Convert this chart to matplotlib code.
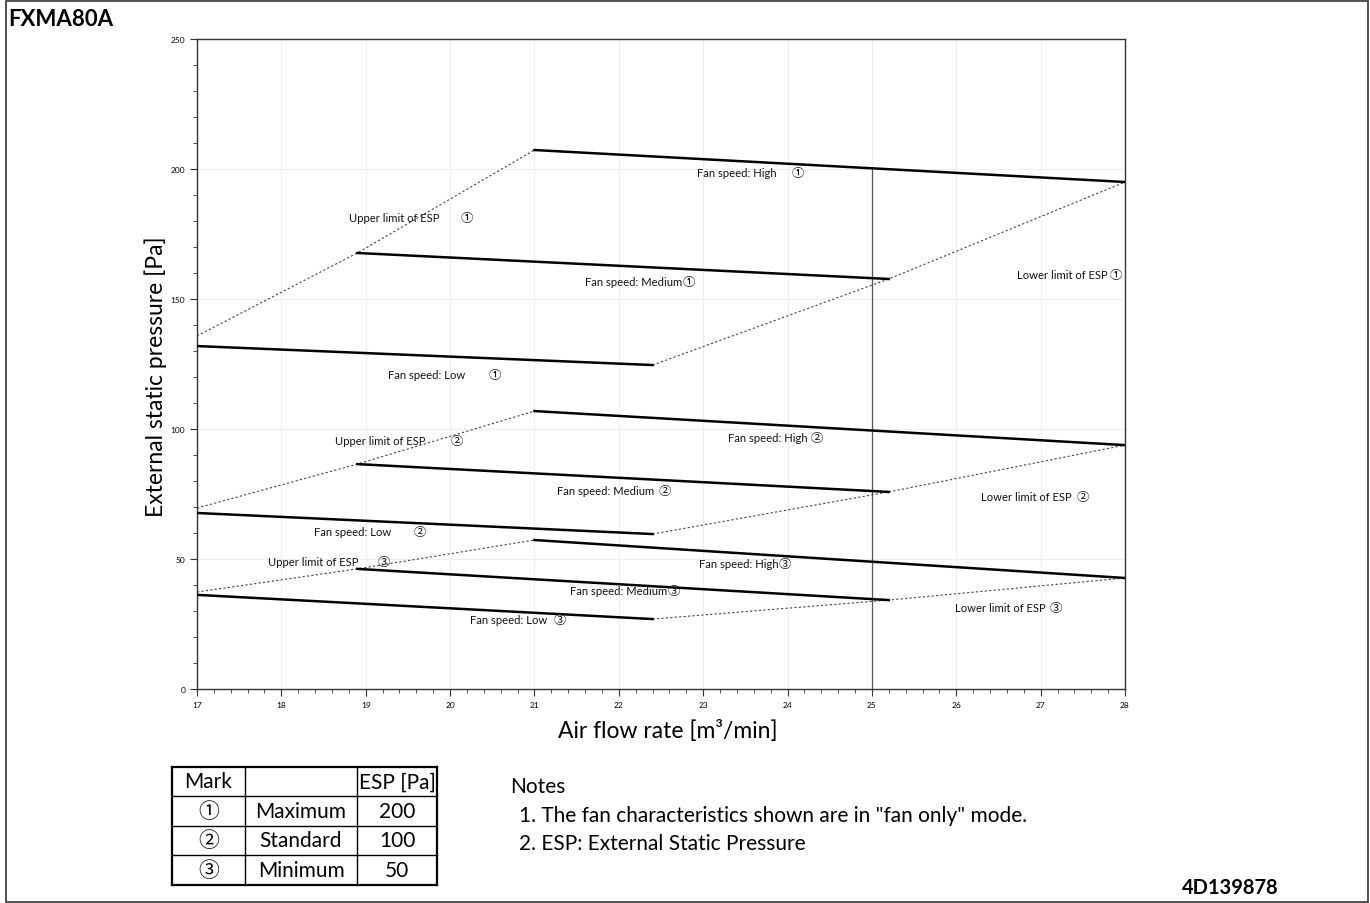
import matplotlib
matplotlib.use("Agg")
import matplotlib.pyplot as plt
from matplotlib.lines import Line2D
from matplotlib.patches import Rectangle
from matplotlib.ticker import MultipleLocator

plt.rcParams['font.family'] = ['Lato', 'DejaVu Sans']
MARK_FONT = ['Noto Sans CJK JP', 'DejaVu Sans']

# ---------------- data ----------------
marks = ['①', '②', '③']
# fan curves per ESP mark
high_x = [21.0, 28.0]
high_y = {'①': [207.3, 195.0], '②': [106.9, 93.8], '③': [57.3, 42.7]}
med_x = [18.9, 25.2]
med_y = {'①': [167.7, 157.7], '②': [86.5, 75.8], '③': [46.2, 34.2]}
low_x = [17.0, 22.4]
low_y = {'①': [131.9, 124.6], '②': [67.7, 59.6], '③': [36.2, 26.9]}
upper_start_y = {'①': 135.8, '②': 69.6, '③': 37.3}

ref_x = 25.0
ref_top = 200.0

x_ticks = list(range(17, 29))
y_ticks = [0, 50, 100, 150, 200, 250]

# labels: (text, mark, x, y, gap in pixels before the mark)
labels = [
    ("Fan speed: High", '①', 22.93, 198.5, 15),
    ("Upper limit of ESP", '①', 18.80, 181.5, 21),
    ("Fan speed: Medium", '①', 21.60, 156.9, 0),
    ("Lower limit of ESP", '①', 26.72, 159.6, 2),
    ("Fan speed: Low", '①', 19.26, 121.0, 24),
    ("Upper limit of ESP", '②', 18.64, 95.4, 25),
    ("Fan speed: High", '②', 23.29, 96.9, 3),
    ("Fan speed: Medium", '②', 21.27, 76.2, 4),
    ("Lower limit of ESP", '②', 26.29, 74.2, 5),
    ("Fan speed: Low", '②', 18.39, 60.4, 22),
    ("Upper limit of ESP", '③', 17.84, 49.2, 19),
    ("Fan speed: High", '③', 22.95, 48.1, 0),
    ("Fan speed: Medium", '③', 21.42, 37.7, 0),
    ("Lower limit of ESP", '③', 25.98, 31.2, 4),
    ("Fan speed: Low", '③', 20.24, 26.9, 6),
]

table_header = ["Mark", "", "ESP [Pa]"]
table_names = ["Maximum", "Standard", "Minimum"]
table_esp = ["200", "100", "50"]

notes = ["Notes",
         "1. The fan characteristics shown are in \"fan only\" mode.",
         "2. ESP: External Static Pressure"]

# ---------------- figure ----------------
W, H = 1370, 904
fig = plt.figure(figsize=(W / 100, H / 100), dpi=100)
ax = fig.add_axes([197 / W, 1 - 690 / H, (1125 - 197) / W, (690 - 40) / H])

ax.set_xlim(17, 28)
ax.set_ylim(0, 250)
ax.set_xticks(x_ticks)
ax.set_yticks(y_ticks)
ax.xaxis.set_minor_locator(MultipleLocator(0.2))
ax.yaxis.set_minor_locator(MultipleLocator(10))
ax.tick_params(which='major', length=5, width=0.8, labelsize=6, direction='out', color='#333333')
ax.tick_params(which='minor', length=3, width=0.6, direction='out', color='#333333')
ax.grid(True, which='major', color='#eeeeee', linewidth=0.8)
ax.set_axisbelow(True)
for s in ax.spines.values():
    s.set_color('#333333')
    s.set_linewidth(1.0)

# reference vertical line
ax.plot([ref_x, ref_x], [0, ref_top], color='#555555', linewidth=0.9, zorder=2)

for m in marks:
    ax.plot(high_x, high_y[m], color='black', linewidth=1.8, zorder=3)
    ax.plot(med_x, med_y[m], color='black', linewidth=1.8, zorder=3)
    ax.plot(low_x, low_y[m], color='black', linewidth=1.8, zorder=3)
    ax.plot([low_x[0], med_x[0], high_x[0]],
            [upper_start_y[m], med_y[m][0], high_y[m][0]],
            color='#444444', linewidth=0.8, linestyle=(0, (2, 2)), zorder=2)
    ax.plot([low_x[1], med_x[1], high_x[1]],
            [low_y[m][1], med_y[m][1], high_y[m][1]],
            color='#444444', linewidth=0.8, linestyle=(0, (2, 2)), zorder=2)

for txt, mk, x, y, gap in labels:
    t = ax.text(x, y, txt, fontsize=8.1, ha='left', va='center', color='#111111', zorder=4)
    ax.annotate(mk, xy=(1, 0.5), xycoords=t, xytext=(gap * 0.72, 0),
                textcoords='offset points', ha='left', va='center',
                fontsize=9, family=MARK_FONT, color='#111111', zorder=4)

ax.set_xlabel("Air flow rate [m³/min]", fontsize=16.5)
ax.xaxis.set_label_coords(0.5075, -0.046)
ax.set_ylabel("External static pressure [Pa]", fontsize=16.5)
ax.yaxis.set_label_coords(-0.032, 0.4815)

# ---------------- outer frame and titles ----------------
fig.add_artist(Rectangle((6 / W, 1 / H), (1368 - 6) / W, (902 - 1) / H,
                         transform=fig.transFigure, fill=False,
                         edgecolor='#333333', linewidth=1.2))
fig.text(8 / W, 1 - 19 / H, "FXMA80A", fontsize=16, fontweight='bold', ha='left', va='center')
fig.text(1230 / W, 1 - 888 / H, "4D139878", fontsize=14.5, fontweight='bold', ha='center', va='center')

# ---------------- table ----------------
col_x = [172, 245, 357, 437]
row_y = [768, 797, 827, 856, 886]

def fl(x0, y0, x1, y1, lw=1.0):
    fig.add_artist(Line2D([x0 / W, x1 / W], [1 - y0 / H, 1 - y1 / H],
                          transform=fig.transFigure, color='black', linewidth=lw))

for y in row_y:
    fl(col_x[0], y, col_x[-1], y, 1.6 if y in (row_y[0], row_y[-1]) else 1.0)
for x in col_x:
    fl(x, row_y[0], x, row_y[-1], 1.6 if x in (col_x[0], col_x[-1]) else 1.0)

def cell(ci, ri, txt, **kw):
    cx = (col_x[ci] + col_x[ci + 1]) / 2
    cy = (row_y[ri] + row_y[ri + 1]) / 2
    fig.text(cx / W, 1 - cy / H, txt, fontsize=15, ha='center', va='center', **kw)

for ci, t in enumerate(table_header):
    cell(ci, 0, t)
for ri in range(3):
    cell(0, ri + 1, marks[ri], family=MARK_FONT)
    cell(1, ri + 1, table_names[ri])
    cell(2, ri + 1, table_esp[ri])

# ---------------- notes ----------------
fig.text(510 / W, 1 - 787 / H, notes[0], fontsize=15, ha='left', va='center')
fig.text(519 / W, 1 - 816 / H, notes[1], fontsize=15, ha='left', va='center')
fig.text(519 / W, 1 - 844 / H, notes[2], fontsize=15, ha='left', va='center')

fig.savefig("out.png", dpi=100)
